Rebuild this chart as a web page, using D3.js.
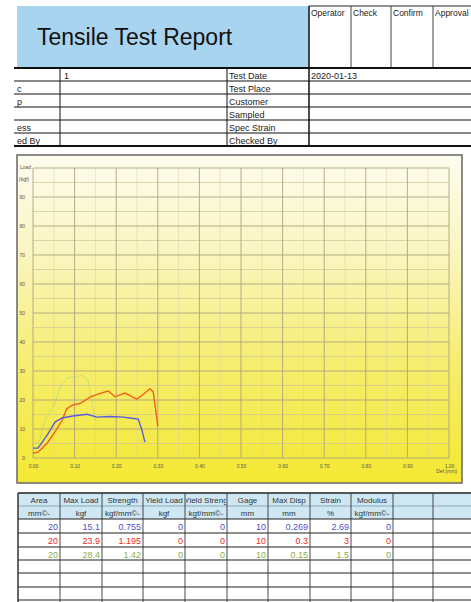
<!DOCTYPE html>
<html>
<head>
<meta charset="utf-8">
<script src="https://cdn.jsdelivr.net/npm/d3@7"></script>
<style>
  body { margin: 0; background: #fff; }
  svg { display: block; font-family: "Liberation Sans", Arial, sans-serif; }
</style>
</head>
<body>
<div id="sheet"></div>
<script>
// chart data
var xTicks = [0, 0.1, 0.2, 0.3, 0.4, 0.5, 0.6, 0.7, 0.8, 0.9, 1.0];
var yTicks = [0, 10, 20, 30, 40, 50, 60, 70, 80, 90];
var blueCurve = [[0,3.4],[0.012,3.4],[0.034,7.9],[0.053,12.4],[0.07,13.8],[0.096,14.5],[0.13,15.1],[0.154,14.1],[0.185,14.3],[0.217,14.1],[0.233,13.8],[0.253,13.4],[0.262,9.6],[0.269,5.5]];
var redCurve = [[0,1.7],[0.012,2],[0.034,5.1],[0.053,9],[0.07,13],[0.081,17],[0.096,18.3],[0.113,18.8],[0.137,21],[0.161,22.3],[0.181,23.1],[0.197,21.1],[0.221,22.4],[0.233,21.5],[0.25,20.3],[0.269,22.4],[0.281,23.9],[0.289,22.8],[0.296,15.5],[0.3,11]];
var greenCurve = [[0,4.8],[0.015,5.5],[0.029,13],[0.053,19],[0.065,24.5],[0.084,27.6],[0.113,28.3],[0.12,28.4],[0.132,26.9],[0.142,19],[0.15,13]];

// header / info table
var signHeads = ["Operator", "Check", "Confirm", "Approval"];
var leftLabels = ["", "c", "p", "", "ess", "ed By"];
var leftValues = ["1", "", "", "", "", ""];
var rightLabels = ["Test Date", "Test Place", "Customer", "Sampled", "Spec Strain", "Checked By"];
var rightValues = ["2020-01-13", "", "", "", "", ""];

// result table
var resHeads = ["Area", "Max Load", "Strength", "Yield Load", "Yield Streng", "Gage", "Max Disp", "Strain", "Modulus", "", ""];
var resUnits = ["mm©-", "kgf", "kgf/mm©-", "kgf", "kgf/mm©-", "mm", "mm", "%", "kgf/mm©-", "", ""];
var resBlue  = ["20", "15.1", "0.755", "0", "0", "10", "0.269", "2.69", "0"];
var resRed   = ["20", "23.9", "1.195", "0", "0", "10", "0.3", "3", "0"];
var resGreen = ["20", "28.4", "1.42", "0", "0", "10", "0.15", "1.5", "0"];

var W = 471, H = 602;
var svg = d3.select("#sheet").append("svg").attr("width", W).attr("height", H);

// ---------- title block ----------
svg.append("rect").attr("x", 17).attr("y", 6).attr("width", 292).attr("height", 61)
   .attr("fill", "#a9d4ef");
svg.append("text").attr("x", 37).attr("y", 45).attr("font-size", 23).attr("fill", "#111")
   .text("Tensile Test Report");

var signX = [309, 351, 391, 433, 480];
svg.append("line").attr("x1", 309).attr("x2", W).attr("y1", 6).attr("y2", 6).attr("stroke", "#222");
signX.slice(0, 4).forEach(function(x, i) {
  svg.append("line").attr("x1", x).attr("x2", x).attr("y1", 6).attr("y2", 67)
     .attr("stroke", i == 0 ? "#111" : "#444").attr("stroke-width", i == 0 ? 1.5 : 1);
  svg.append("text").attr("x", x + 2).attr("y", 16)
     .attr("font-size", 8.5).attr("fill", "#222").text(signHeads[i]);
});

// ---------- info rows ----------
var rowY = [68, 81, 94, 107, 120, 133, 146];
rowY.forEach(function(y, i) {
  var thick = (i == 0 || i == rowY.length - 1);
  svg.append("line").attr("x1", 14).attr("x2", W).attr("y1", y).attr("y2", y)
     .attr("stroke", "#111").attr("stroke-width", thick ? 2 : 1);
});
[60, 227, 309].forEach(function(x) {
  svg.append("line").attr("x1", x).attr("x2", x).attr("y1", 68).attr("y2", 146)
     .attr("stroke", "#111").attr("stroke-width", x == 309 ? 1.5 : 1);
});
var info = svg.append("g").attr("font-size", 9).attr("fill", "#222");
rightLabels.forEach(function(t, i) {
  var y = rowY[i] + 10.5;
  info.append("text").attr("x", 17).attr("y", y).text(leftLabels[i]);
  info.append("text").attr("x", 64).attr("y", y).text(leftValues[i]);
  info.append("text").attr("x", 229).attr("y", y).text(t);
  info.append("text").attr("x", 311).attr("y", y).text(rightValues[i]);
});

// ---------- chart ----------
var defs = svg.append("defs");
var grad = defs.append("linearGradient").attr("id", "bg").attr("x1", 0).attr("x2", 0).attr("y1", 0).attr("y2", 1);
grad.append("stop").attr("offset", "0%").attr("stop-color", "#fdfcee");
grad.append("stop").attr("offset", "30%").attr("stop-color", "#faf5c0");
grad.append("stop").attr("offset", "65%").attr("stop-color", "#f6ed6c");
grad.append("stop").attr("offset", "100%").attr("stop-color", "#f4e832");

svg.append("rect").attr("x", 17).attr("y", 155).attr("width", 445).attr("height", 328)
   .attr("fill", "url(#bg)").attr("stroke", "#6f6f6f").attr("stroke-width", 1.6);

var x = d3.scaleLinear().domain([0, 1]).range([33, 449]);
var y = d3.scaleLinear().domain([0, 100]).range([458, 168]);

// grid
var grid = svg.append("g");
grid.selectAll(".vminor").data(d3.range(0.05, 1, 0.1)).enter().append("line")
    .attr("x1", d => x(d)).attr("x2", d => x(d)).attr("y1", y(100)).attr("y2", y(0))
    .attr("stroke", "#d6d0a6").attr("stroke-width", 0.5);
grid.selectAll(".hminor").data(d3.range(5, 100, 10)).enter().append("line")
    .attr("x1", x(0)).attr("x2", x(1)).attr("y1", d => y(d)).attr("y2", d => y(d))
    .attr("stroke", "#cbc59c").attr("stroke-width", 0.7);
grid.selectAll(".vmajor").data(xTicks).enter().append("line")
    .attr("x1", d => x(d)).attr("x2", d => x(d)).attr("y1", y(100)).attr("y2", y(0))
    .attr("stroke", "#aba580").attr("stroke-width", 0.9);
grid.selectAll(".hmajor").data(yTicks.concat([100])).enter().append("line")
    .attr("x1", x(0)).attr("x2", x(1)).attr("y1", d => y(d)).attr("y2", d => y(d))
    .attr("stroke", "#aba580").attr("stroke-width", 0.9);

// axes
var xAxis = d3.axisBottom(x).tickValues(xTicks).tickSize(0).tickPadding(6).tickFormat(d3.format(".2f"));
var yAxis = d3.axisLeft(y).tickValues(yTicks).tickSize(0).tickPadding(8).tickFormat(d3.format("d"));
svg.append("g").attr("transform", "translate(0," + y(0) + ")").call(customAxis, xAxis);
svg.append("g").attr("transform", "translate(" + x(0) + ",0)").call(customAxis, yAxis);

function customAxis(g, ax) {
  g.call(ax);
  g.select(".domain").remove();
  g.selectAll(".tick text").attr("font-size", 5).attr("fill", "#555").attr("font-family", "Liberation Sans, Arial");
}

svg.append("text").attr("x", 20).attr("y", 169).attr("font-size", 5).attr("fill", "#555").text("Load");
svg.append("text").attr("x", 19).attr("y", 181).attr("font-size", 5).attr("fill", "#555").text("(kgf)");
svg.append("text").attr("x", 457).attr("y", 473).attr("text-anchor", "end").attr("font-size", 5).attr("fill", "#555").text("Def.(mm)");

// curves
var line = d3.line().x(d => x(d[0])).y(d => y(d[1]));
svg.append("path").datum(greenCurve).attr("d", line).attr("fill", "none")
   .attr("stroke", "#a8d484").attr("stroke-width", 1).attr("opacity", 0.6);
svg.append("path").datum(redCurve).attr("d", line).attr("fill", "none")
   .attr("stroke", "#f0601e").attr("stroke-width", 1.4);
svg.append("path").datum(blueCurve).attr("d", line).attr("fill", "none")
   .attr("stroke", "#5a5adc").attr("stroke-width", 1.4);

// ---------- result table ----------
var colX = [18, 60, 102, 143, 185, 227, 268, 310, 351, 393, 433, 478];
var tRows = [493, 506, 519, 533, 547, 560, 573, 587, 600];

var tbl = svg.append("g");
tbl.append("rect").attr("x", colX[0]).attr("y", tRows[0]).attr("width", W - colX[0]).attr("height", tRows[2] - tRows[0])
   .attr("fill", "#cfe7f2");
tRows.forEach(function(yy, i) {
  tbl.append("line").attr("x1", colX[0]).attr("x2", W).attr("y1", yy).attr("y2", yy)
     .attr("stroke", i == 1 ? "#8ab" : "#222").attr("stroke-width", i == 0 ? 1.6 : 1.1);
});
colX.forEach(function(xx, i) {
  tbl.append("line").attr("x1", xx).attr("x2", xx).attr("y1", tRows[0]).attr("y2", H)
     .attr("stroke", "#333").attr("stroke-width", i == 0 ? 1.5 : 0.9);
});

var clip = defs.selectAll(".cc").data(d3.range(colX.length - 1)).enter().append("clipPath")
   .attr("id", d => "cc" + d);
clip.append("rect").attr("x", d => colX[d] + 1).attr("y", tRows[0]).attr("width", d => colX[d + 1] - colX[d] - 2).attr("height", 30);

resHeads.forEach(function(t, i) {
  var cx = (colX[i] + colX[i + 1]) / 2;
  var g = tbl.append("g").attr("clip-path", "url(#cc" + i + ")").attr("font-size", 8).attr("fill", "#333");
  g.append("text").attr("x", cx).attr("y", 503).attr("text-anchor", "middle").text(t);
  g.append("text").attr("x", cx).attr("y", 516).attr("text-anchor", "middle").text(resUnits[i]);
});

var resRows = [resBlue, resRed, resGreen];
var resColors = ["#5050c8", "#ee2a22", "#86b04a"];
resRows.forEach(function(row, r) {
  row.forEach(function(v, i) {
    tbl.append("text").attr("x", colX[i + 1] - 2).attr("y", tRows[r + 2] + 10.5)
       .attr("text-anchor", "end").attr("font-size", 9).attr("fill", resColors[r]).text(v);
  });
});
</script>
</body>
</html>
